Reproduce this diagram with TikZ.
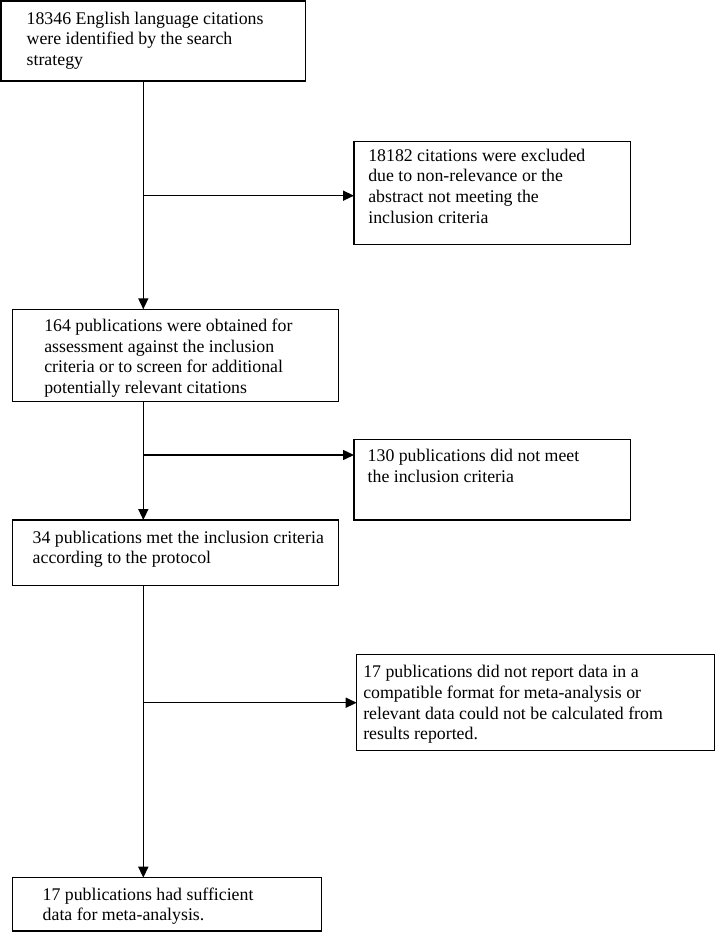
\documentclass[tikz,border=0pt]{standalone}
\usepackage{fontspec}
\setmainfont{Liberation Serif}
\usetikzlibrary{arrows.meta}
\newcommand\bxtext[5]{\parbox[c][#2][t]{#1}{\raggedright\leftskip=#3\relax\fontsize{17.8}{20.6}\selectfont\rule{0pt}{#4}#5}}
\tikzset{
  flowbox/.style={draw, line width=1.5pt, anchor=north west, inner sep=0pt, outer sep=0pt},
  arr/.style={line width=1.5pt, -{Triangle[length=11pt,width=10pt]}}
}
\begin{document}
\begin{tikzpicture}[x=1pt,y=-1pt]
\useasboundingbox (0,0) rectangle (715,932);
% boxes: width, height, left pad, first baseline
\node[flowbox] (b1) at (1,1) {\bxtext{304.7pt}{80pt}{25.7pt}{23pt}{18346 English language citations\\were identified by the search\\strategy}};
\node[flowbox] (b2) at (354,141.7) {\bxtext{276.7pt}{102.6pt}{14.3pt}{19.5pt}{18182 citations were excluded\\due to non-relevance or the\\abstract not meeting the\\inclusion criteria}};
\node[flowbox] (b3) at (12.7,309.3) {\bxtext{325.6pt}{92.4pt}{31.6pt}{22.4pt}{164 publications were obtained for\\assessment against the inclusion\\criteria or to screen for additional\\potentially relevant citations}};
\node[flowbox] (b4) at (354,439.3) {\bxtext{276.7pt}{80.7pt}{13.7pt}{22.4pt}{130 publications did not meet\\the inclusion criteria}};
\node[flowbox] (b5) at (12.7,520) {\bxtext{325.6pt}{65.7pt}{20pt}{23.3pt}{34 publications met the inclusion criteria\\according to the protocol}};
\node[flowbox] (b6) at (356.7,654.3) {\bxtext{357.6pt}{96.2pt}{6.6pt}{23.5pt}{17 publications did not report data in a\\compatible format for meta-analysis or\\relevant data could not be calculated from\\results reported.}};
\node[flowbox] (b7) at (12.7,877.7) {\bxtext{309pt}{53.5pt}{30pt}{22.3pt}{17 publications had sufficient\\data for meta-analysis.}};
% spine coordinates
\coordinate (sx) at (143.3,0);
\coordinate (j1) at (143.3,195.7);
\coordinate (j2) at (143.3,455);
\coordinate (j3) at (143.3,702.7);
% connectors
\draw[arr] (b1.south -| sx) -- (b3.north -| sx);
\draw[arr] (j1) -- (j1 -| b2.west);
\draw[arr] (b3.south -| sx) -- (b5.north -| sx);
\draw[arr] (j2) -- (j2 -| b4.west);
\draw[arr] (b5.south -| sx) -- (b7.north -| sx);
\draw[arr] (j3) -- (j3 -| b6.west);
\end{tikzpicture}
\end{document}
